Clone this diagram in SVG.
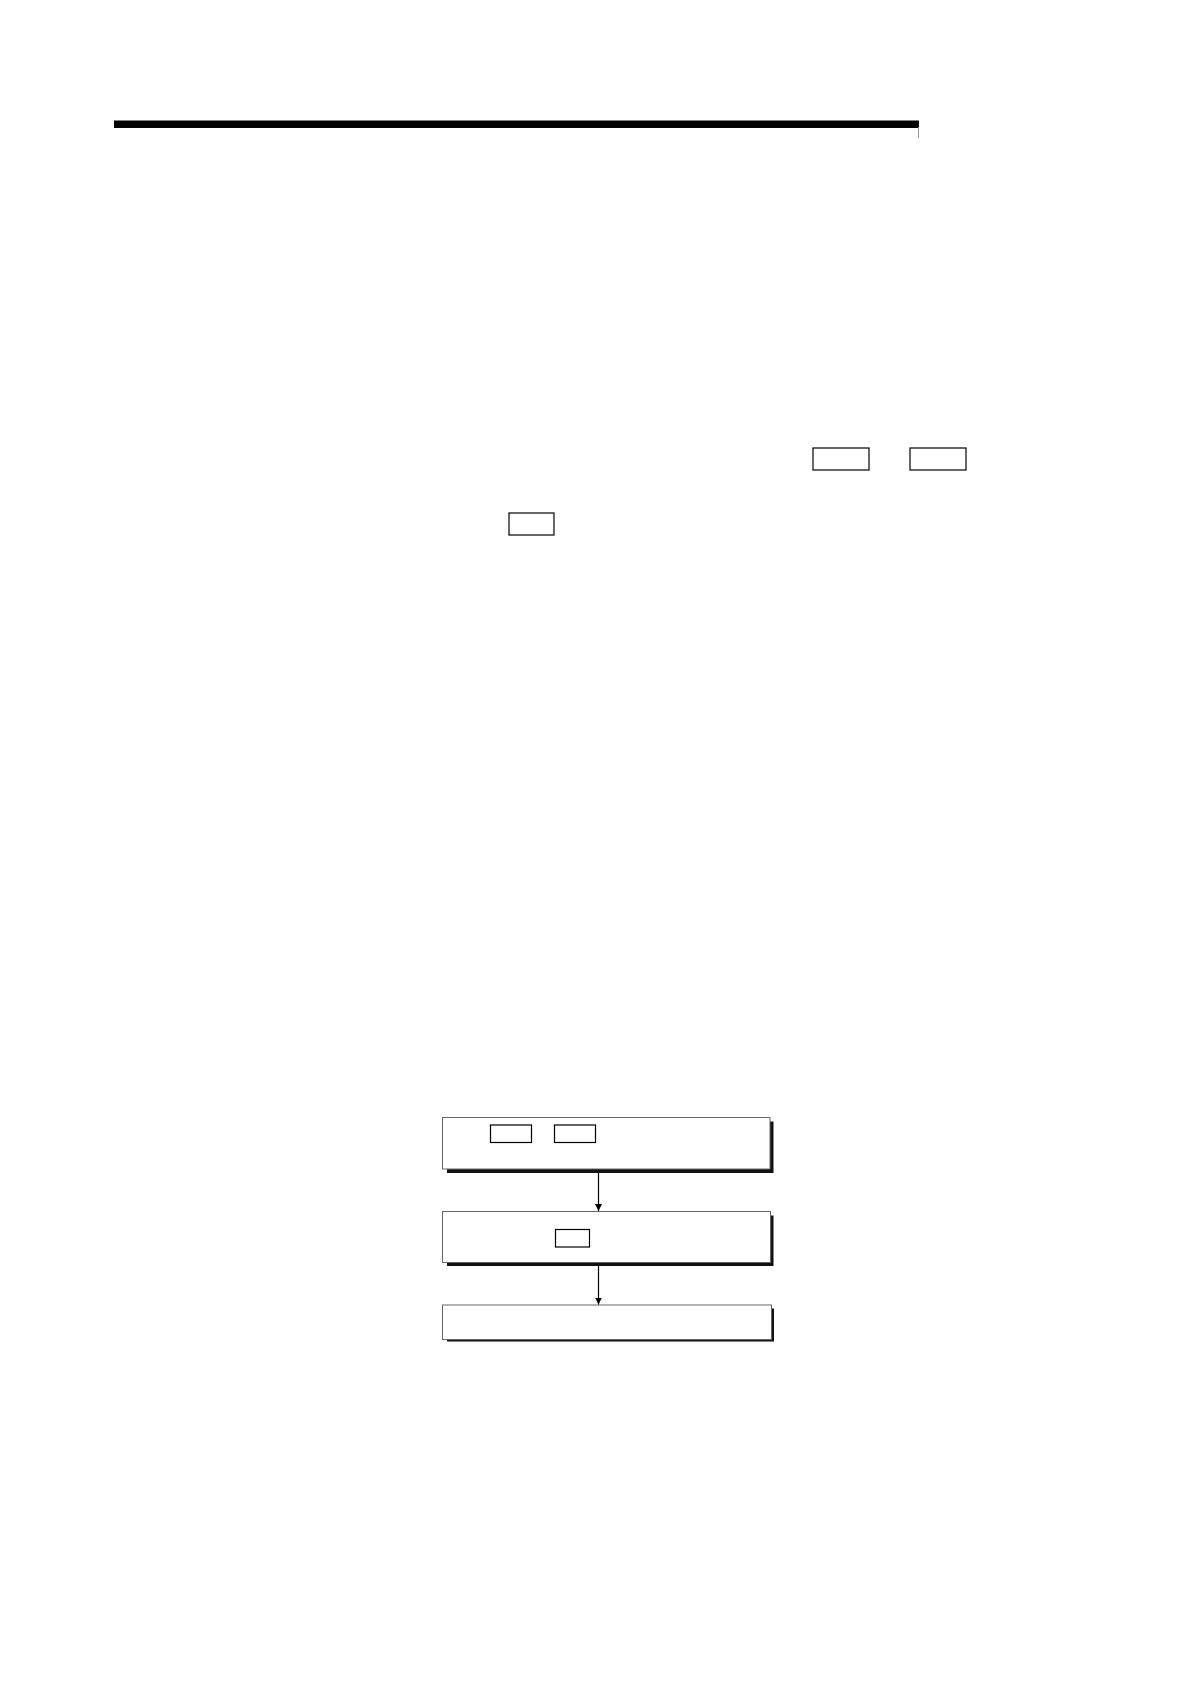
<svg xmlns="http://www.w3.org/2000/svg" width="1190" height="1684" viewBox="0 0 1190 1684">
<style>
.key{fill:#fff;stroke:#000;stroke-width:1.2}
.box{fill:#fff;stroke:#666;stroke-width:1}
.shadow{fill:#111}
.conn{stroke:#000;stroke-width:1.2;fill:none}
</style>
<defs>
<marker id="arr" markerWidth="8" markerHeight="8" refX="7" refY="3.5" orient="auto" markerUnits="userSpaceOnUse">
<path d="M0,0 L7,3.5 L0,7 Z" fill="#000"/>
</marker>
</defs>
<rect width="1190" height="1684" fill="#fff"/>
<g id="header">
<rect x="114" y="120.5" width="805" height="7.5" fill="#000"/>
<line x1="918.5" y1="127" x2="918.5" y2="138" stroke="#999" stroke-width="1"/>
</g>
<g id="text-keys">
<rect class="key" x="813" y="448" width="56" height="22"/>
<rect class="key" x="910" y="448" width="56" height="22"/>
<rect class="key" x="509" y="513" width="45" height="22"/>
</g>
<g id="node1">
<rect class="shadow" x="447" y="1121.5" width="326.5" height="51.5"/>
<rect class="box" x="442.5" y="1117.5" width="327.5" height="51.5"/>
<rect class="key" x="490.5" y="1125" width="41" height="17.5"/>
<rect class="key" x="554.5" y="1125" width="41" height="17.5"/>
</g>
<g id="node2">
<rect class="shadow" x="447" y="1215.5" width="326.5" height="50.5"/>
<rect class="box" x="442.5" y="1211.5" width="328" height="51"/>
<rect class="key" x="555.5" y="1229.5" width="34" height="17.5"/>
</g>
<g id="node3">
<rect class="shadow" x="447" y="1308.5" width="327" height="33"/>
<rect class="box" x="442.5" y="1305" width="329" height="34.5"/>
</g>
<g id="connectors">
<line class="conn" x1="598.5" y1="1173" x2="598.5" y2="1211" marker-end="url(#arr)"/>
<line class="conn" x1="598.5" y1="1266" x2="598.5" y2="1304.5" marker-end="url(#arr)"/>
</g>
</svg>
